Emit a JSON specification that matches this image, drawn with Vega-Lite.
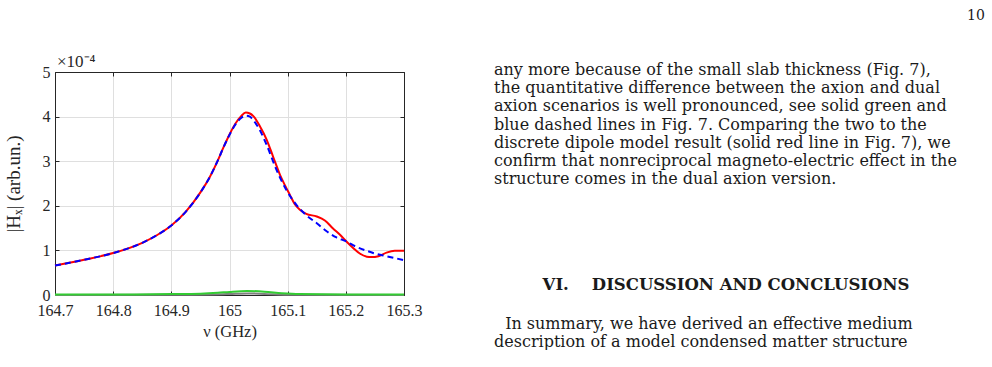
{
  "$schema": "https://vega.github.io/schema/vega-lite/v6.json",
  "padding": {"left": 3, "top": 9, "right": 0, "bottom": 0},
  "background": "white",
  "config": {
    "view": {"stroke": null},
    "font": "Liberation Serif",
    "axis": {"domainColor": "#262626", "tickColor": "#262626", "labelColor": "#262626", "titleColor": "#262626", "labelFont": "Liberation Serif", "titleFont": "Liberation Serif"}
  },
  "datasets": {
    "curves": [
      {"series": "dipole", "nu": 164.70, "Hx": 0.66},
      {"series": "dipole", "nu": 164.75, "Hx": 0.79},
      {"series": "dipole", "nu": 164.80, "Hx": 0.94},
      {"series": "dipole", "nu": 164.85, "Hx": 1.17},
      {"series": "dipole", "nu": 164.875, "Hx": 1.34},
      {"series": "dipole", "nu": 164.90, "Hx": 1.56},
      {"series": "dipole", "nu": 164.925, "Hx": 1.87},
      {"series": "dipole", "nu": 164.95, "Hx": 2.30},
      {"series": "dipole", "nu": 164.965, "Hx": 2.62},
      {"series": "dipole", "nu": 164.98, "Hx": 3.02},
      {"series": "dipole", "nu": 164.99, "Hx": 3.32},
      {"series": "dipole", "nu": 165.00, "Hx": 3.60},
      {"series": "dipole", "nu": 165.01, "Hx": 3.84},
      {"series": "dipole", "nu": 165.02, "Hx": 4.01},
      {"series": "dipole", "nu": 165.028, "Hx": 4.09},
      {"series": "dipole", "nu": 165.035, "Hx": 4.07},
      {"series": "dipole", "nu": 165.041, "Hx": 4.01},
      {"series": "dipole", "nu": 165.052, "Hx": 3.79},
      {"series": "dipole", "nu": 165.064, "Hx": 3.48},
      {"series": "dipole", "nu": 165.075, "Hx": 3.10},
      {"series": "dipole", "nu": 165.087, "Hx": 2.69},
      {"series": "dipole", "nu": 165.095, "Hx": 2.47},
      {"series": "dipole", "nu": 165.104, "Hx": 2.24},
      {"series": "dipole", "nu": 165.112, "Hx": 2.04},
      {"series": "dipole", "nu": 165.121, "Hx": 1.91},
      {"series": "dipole", "nu": 165.132, "Hx": 1.82},
      {"series": "dipole", "nu": 165.150, "Hx": 1.76},
      {"series": "dipole", "nu": 165.164, "Hx": 1.67},
      {"series": "dipole", "nu": 165.178, "Hx": 1.49},
      {"series": "dipole", "nu": 165.190, "Hx": 1.35},
      {"series": "dipole", "nu": 165.201, "Hx": 1.20},
      {"series": "dipole", "nu": 165.213, "Hx": 1.05},
      {"series": "dipole", "nu": 165.224, "Hx": 0.93},
      {"series": "dipole", "nu": 165.236, "Hx": 0.86},
      {"series": "dipole", "nu": 165.244, "Hx": 0.85},
      {"series": "dipole", "nu": 165.256, "Hx": 0.87},
      {"series": "dipole", "nu": 165.270, "Hx": 0.95},
      {"series": "dipole", "nu": 165.284, "Hx": 0.99},
      {"series": "dipole", "nu": 165.300, "Hx": 0.99},
      {"series": "dual", "nu": 164.70, "Hx": 0.66},
      {"series": "dual", "nu": 164.75, "Hx": 0.79},
      {"series": "dual", "nu": 164.80, "Hx": 0.94},
      {"series": "dual", "nu": 164.85, "Hx": 1.17},
      {"series": "dual", "nu": 164.875, "Hx": 1.34},
      {"series": "dual", "nu": 164.90, "Hx": 1.56},
      {"series": "dual", "nu": 164.925, "Hx": 1.87},
      {"series": "dual", "nu": 164.95, "Hx": 2.30},
      {"series": "dual", "nu": 164.965, "Hx": 2.62},
      {"series": "dual", "nu": 164.98, "Hx": 3.02},
      {"series": "dual", "nu": 164.99, "Hx": 3.32},
      {"series": "dual", "nu": 165.00, "Hx": 3.59},
      {"series": "dual", "nu": 165.01, "Hx": 3.82},
      {"series": "dual", "nu": 165.02, "Hx": 3.97},
      {"series": "dual", "nu": 165.028, "Hx": 4.02},
      {"series": "dual", "nu": 165.035, "Hx": 4.00},
      {"series": "dual", "nu": 165.041, "Hx": 3.92},
      {"series": "dual", "nu": 165.052, "Hx": 3.70},
      {"series": "dual", "nu": 165.064, "Hx": 3.36},
      {"series": "dual", "nu": 165.081, "Hx": 2.80},
      {"series": "dual", "nu": 165.098, "Hx": 2.35},
      {"series": "dual", "nu": 165.115, "Hx": 2.02},
      {"series": "dual", "nu": 165.132, "Hx": 1.79},
      {"series": "dual", "nu": 165.150, "Hx": 1.61},
      {"series": "dual", "nu": 165.167, "Hx": 1.43},
      {"series": "dual", "nu": 165.184, "Hx": 1.29},
      {"series": "dual", "nu": 165.201, "Hx": 1.20},
      {"series": "dual", "nu": 165.218, "Hx": 1.08},
      {"series": "dual", "nu": 165.236, "Hx": 0.99},
      {"series": "dual", "nu": 165.253, "Hx": 0.92},
      {"series": "dual", "nu": 165.270, "Hx": 0.87},
      {"series": "dual", "nu": 165.287, "Hx": 0.82},
      {"series": "dual", "nu": 165.300, "Hx": 0.78},
      {"series": "axion", "nu": 164.70, "Hx": 0.010},
      {"series": "axion", "nu": 164.80, "Hx": 0.012},
      {"series": "axion", "nu": 164.90, "Hx": 0.020},
      {"series": "axion", "nu": 164.95, "Hx": 0.030},
      {"series": "axion", "nu": 164.98, "Hx": 0.050},
      {"series": "axion", "nu": 165.00, "Hx": 0.070},
      {"series": "axion", "nu": 165.03, "Hx": 0.090},
      {"series": "axion", "nu": 165.06, "Hx": 0.075},
      {"series": "axion", "nu": 165.09, "Hx": 0.040},
      {"series": "axion", "nu": 165.12, "Hx": 0.020},
      {"series": "axion", "nu": 165.20, "Hx": 0.012},
      {"series": "axion", "nu": 165.30, "Hx": 0.010},
      {"series": "grey", "nu": 164.70, "Hx": 0.000},
      {"series": "grey", "nu": 164.90, "Hx": 0.005},
      {"series": "grey", "nu": 164.97, "Hx": 0.012},
      {"series": "grey", "nu": 165.00, "Hx": 0.022},
      {"series": "grey", "nu": 165.03, "Hx": 0.035},
      {"series": "grey", "nu": 165.06, "Hx": 0.025},
      {"series": "grey", "nu": 165.10, "Hx": 0.008},
      {"series": "grey", "nu": 165.30, "Hx": 0.000}
    ],
    "multiplier": [{"nu": 164.7, "Hx": 5, "label": "×10⁻⁴"}],
    "body": [
      {"row": 1, "col": 0, "text": "any more because of the small slab thickness (Fig. 7),"},
      {"row": 2, "col": 0, "text": "the quantitative difference between the axion and dual"},
      {"row": 3, "col": 0, "text": "axion scenarios is well pronounced, see solid green and"},
      {"row": 4, "col": 0, "text": "blue dashed lines in Fig. 7.  Comparing the two to the"},
      {"row": 5, "col": 0, "text": "discrete dipole model result (solid red line in Fig. 7), we"},
      {"row": 6, "col": 0, "text": "confirm that nonreciprocal magneto-electric effect in the"},
      {"row": 7, "col": 0, "text": "structure comes in the dual axion version."},
      {"row": 14.93, "col": 0.024, "text": "In summary, we have derived an effective medium"},
      {"row": 15.92, "col": 0, "text": "description of a model condensed matter structure"}
    ],
    "heading": [{"row": 12.81, "col": 0.5, "text": "VI.\u00a0\u00a0\u00a0\u00a0DISCUSSION AND CONCLUSIONS"}],
    "pagenum": [{"row": -1.956, "col": 1.058, "text": "10"}]
  },
  "spacing": 71,
  "hconcat": [
    {
      "width": 349,
      "height": 223,
      "view": {"stroke": "#262626", "strokeWidth": 1},
      "resolve": {"axis": {"x": "independent", "y": "independent"}},
      "layer": [
        {
          "data": {"name": "curves"},
          "transform": [{"filter": "datum.series === 'grey'"}],
          "mark": {"type": "line", "color": "#808080", "strokeWidth": 2, "interpolate": "monotone"},
          "encoding": {
            "x": {"field": "nu", "type": "quantitative", "scale": {"domain": [164.7, 165.3], "nice": false, "zero": false},
              "axis": {"orient": "bottom", "values": [164.7, 164.8, 164.9, 165.0, 165.1, 165.2, 165.3], "labelExpr": "toString(round(datum.value*10)/10)", "title": "ν (GHz)", "titleFontSize": 16.5, "titleFontWeight": "normal", "titlePadding": 5, "labelFontSize": 16, "labelPadding": 11, "tickSize": -4, "grid": true, "gridColor": "#dfdfdf", "labelFlush": false}},
            "y": {"field": "Hx", "type": "quantitative", "scale": {"domain": [0, 5], "nice": false},
              "axis": {"orient": "left", "values": [0, 1, 2, 3, 4, 5], "title": "|Hₓ| (arb.un.)", "titleFontSize": 19, "titleFontWeight": "normal", "titlePadding": 19, "labelFontSize": 16, "labelPadding": 9, "tickSize": -4, "grid": true, "gridColor": "#dfdfdf", "labelFlush": false}}
          }
        },
        {
          "data": {"name": "curves"},
          "transform": [{"filter": "datum.series === 'axion'"}],
          "mark": {"type": "line", "color": "#33cc33", "strokeWidth": 2, "interpolate": "monotone"},
          "encoding": {
            "x": {"field": "nu", "type": "quantitative", "axis": {"orient": "top", "values": [164.7, 164.8, 164.9, 165.0, 165.1, 165.2, 165.3], "labels": false, "title": null, "tickSize": -4, "grid": false}},
            "y": {"field": "Hx", "type": "quantitative", "axis": {"orient": "right", "values": [0, 1, 2, 3, 4, 5], "labels": false, "title": null, "tickSize": -4, "grid": false}}
          }
        },
        {
          "data": {"name": "curves"},
          "transform": [{"filter": "datum.series === 'dipole'"}],
          "mark": {"type": "line", "color": "#ff0000", "strokeWidth": 2, "interpolate": "monotone"},
          "encoding": {
            "x": {"field": "nu", "type": "quantitative", "axis": null},
            "y": {"field": "Hx", "type": "quantitative", "axis": null}
          }
        },
        {
          "data": {"name": "curves"},
          "transform": [{"filter": "datum.series === 'dual'"}],
          "mark": {"type": "line", "color": "#0000ff", "strokeWidth": 2, "strokeDash": [6, 4], "interpolate": "monotone"},
          "encoding": {
            "x": {"field": "nu", "type": "quantitative", "axis": null},
            "y": {"field": "Hx", "type": "quantitative", "axis": null}
          }
        },
        {
          "data": {"name": "multiplier"},
          "mark": {"type": "text", "align": "left", "baseline": "bottom", "dx": 2, "dy": -1, "fontSize": 17, "font": "Liberation Serif", "color": "#262626"},
          "encoding": {
            "x": {"field": "nu", "type": "quantitative", "axis": null},
            "y": {"field": "Hx", "type": "quantitative", "axis": null},
            "text": {"field": "label"}
          }
        }
      ]
    },
    {
      "width": 464,
      "height": 223,
      "view": {"stroke": null},
      "layer": [
        {
          "data": {"name": "body"},
          "mark": {"type": "text", "align": "left", "baseline": "middle", "font": "DejaVu Serif", "fontSize": 16, "color": "#1a1a1a"},
          "encoding": {
            "x": {"field": "col", "type": "quantitative", "scale": {"domain": [0, 1], "nice": false, "zero": false}, "axis": null},
            "y": {"field": "row", "type": "quantitative", "scale": {"domain": [1.11, 13.36], "reverse": true, "nice": false, "zero": false}, "axis": null},
            "text": {"field": "text"}
          }
        },
        {
          "data": {"name": "heading"},
          "mark": {"type": "text", "align": "center", "baseline": "middle", "font": "DejaVu Serif", "fontWeight": "bold", "fontSize": 16.5, "color": "#1a1a1a"},
          "encoding": {
            "x": {"field": "col", "type": "quantitative"},
            "y": {"field": "row", "type": "quantitative"},
            "text": {"field": "text"}
          }
        },
        {
          "data": {"name": "pagenum"},
          "mark": {"type": "text", "align": "right", "baseline": "middle", "font": "DejaVu Serif", "fontSize": 14, "color": "#1a1a1a"},
          "encoding": {
            "x": {"field": "col", "type": "quantitative"},
            "y": {"field": "row", "type": "quantitative"},
            "text": {"field": "text"}
          }
        }
      ]
    }
  ]
}
